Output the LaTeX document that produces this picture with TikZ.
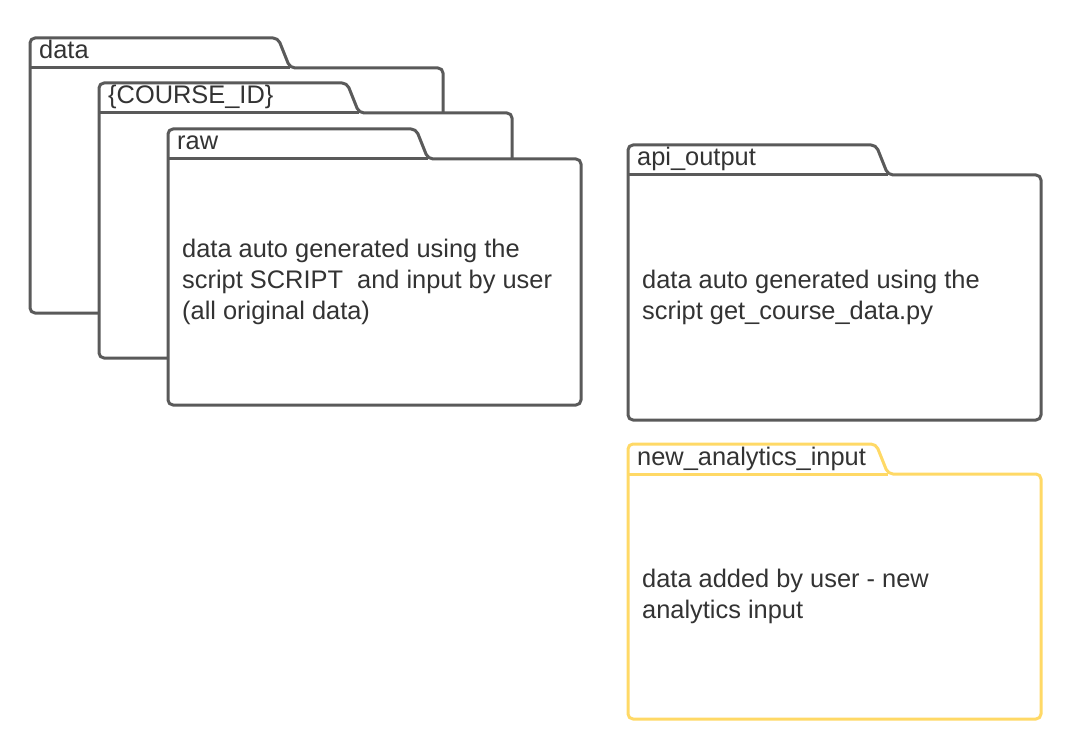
\documentclass[tikz,border=0pt]{standalone}
\usepackage{fontspec}
\setmainfont{Liberation Sans}
\definecolor{fgray}{HTML}{5A5A5A}
\definecolor{fyellow}{HTML}{FFD966}
\definecolor{ftext}{HTML}{333333}
\tikzset{
  folderline/.style={line width=3pt, line join=round, rounded corners=5pt, fill=white},
  foldertxt/.style={inner sep=0pt, text=ftext, font=\fontsize{25.4}{31}\selectfont, align=left, anchor=west},
  tablabel/.style={inner sep=0pt, text=ftext, font=\fontsize{25.4}{31}\selectfont, anchor=base west},
}
% #1 L, #2 T, #3 bottom Y, #4 colour, #5 name, #6 label, #7 text
\newcommand\myfolder[7]{%
  \draw[folderline, draw=#4] (#1,#3) -- (#1,#2) -- ({#1+248},#2) -- ({#1+260},{#2+30}) -- ({#1+413},{#2+30}) -- ({#1+413},#3) -- cycle;
  \draw[line width=3pt, draw=#4] (#1,{#2+30}) -- ({#1+260},{#2+30});
  \node[tablabel] (#5label) at ({#1+9},{#2+21}) {#6};
  \node[foldertxt] (#5text) at ({#1+14},{(#2+30+#3)/2}) {#7};
}
\begin{document}
\begin{tikzpicture}[x=1pt,y=-1pt]
\useasboundingbox (0,0) rectangle (1066,738);
\myfolder{30}{38}{313}{fgray}{data}{data}{}
\myfolder{99}{83}{358}{fgray}{course}{\{COURSE\_ID\}}{}
\myfolder{168}{129}{405}{fgray}{raw}{raw}{data auto generated using the\\script SCRIPT\ \ and input by user\\(all original data)}
\myfolder{628}{145}{420}{fgray}{api}{api\_output}{data auto generated using the\\script get\_course\_data.py}
\myfolder{628}{444}{719}{fyellow}{new}{new\_analytics\_input}{data added by user - new\\analytics input}
\end{tikzpicture}
\end{document}
